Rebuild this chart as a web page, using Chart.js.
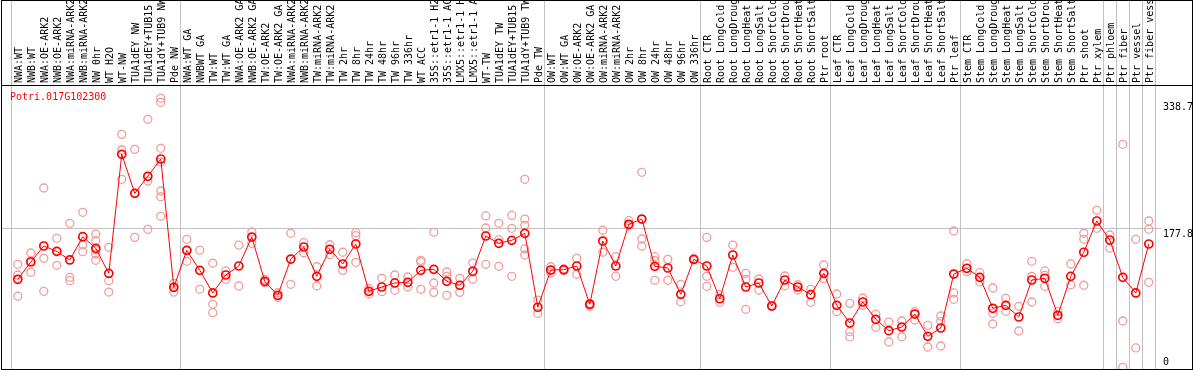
<!DOCTYPE html>
<html>
<head>
<meta charset="utf-8">
<script src="https://cdn.jsdelivr.net/npm/chart.js@4.4.1/dist/chart.umd.min.js"></script>
<style>
  html, body { margin: 0; padding: 0; background: #fff; overflow: hidden; }
  #wrap { position: relative; width: 1194px; height: 370px; }
  #frame { position: absolute; left: 1px; top: 0; width: 1192px; height: 370px; border: 1px solid #000; box-sizing: border-box; pointer-events: none; }
  #headerLine { position: absolute; left: 1px; top: 85px; width: 1192px; height: 1px; background: #000; pointer-events: none; }
</style>
</head>
<body>
<div id="wrap">
  <canvas id="chart" width="1194" height="370"></canvas>
  <div id="frame"></div>
  <div id="headerLine"></div>
</div>
<script>
// expression profile, one gene across all samples

const geneId = 'Potri.017G102300';

const samples = [
    'NWA:WT', 'NWB:WT', 'NWA:OE-ARK2', 'NWB:OE-ARK2', 'NWA:miRNA-ARK2', 'NWB:miRNA-ARK2',
    'NW 0hr', 'WT H2O', 'WT-NW', 'TUA1dEY NW', 'TUA1dEY+TUB15 NW', 'TUA1dY+TUB9 NW', 'Pde NW',
    'NWA:WT GA', 'NWBWT GA', 'TW:WT', 'TW:WT GA', 'NWA:OE-ARK2 GA', 'NWB:OE-ARK2 GA',
    'TW:OE-ARK2', 'TW:OE-ARK2 GA', 'NWA:miRNA-ARK2 GA', 'NWB:miRNA-ARK2 GA', 'TW:miRNA-ARK2',
    'TW:miRNA-ARK2 GA', 'TW 2hr', 'TW 8hr', 'TW 24hr', 'TW 48hr', 'TW 96hr', 'TW 336hr',
    'WT ACC', '35S::etr1-1 H2O', '35S::etr1-1 ACC', 'LMX5::etr1-1 H2O', 'LMX5::etr1-1 ACC',
    'WT-TW', 'TUA1dEY TW', 'TUA1dEY+TUB15 TW', 'TUA1dY+TUB9 TW', 'Pde TW',
    'OW:WT', 'OW:WT GA', 'OW:OE-ARK2', 'OW:OE-ARK2 GA', 'OW:miRNA-ARK2', 'OW:miRNA-ARK2 GA',
    'OW 2hr', 'OW 8hr', 'OW 24hr', 'OW 48hr', 'OW 96hr', 'OW 336hr',
    'Root CTR', 'Root LongCold', 'Root LongDrought', 'Root LongHeat', 'Root LongSalt',
    'Root ShortCold', 'Root ShortDrought', 'Root ShortHeat', 'Root ShortSalt', 'Ptr root',
    'Leaf CTR', 'Leaf LongCold', 'Leaf LongDrought', 'Leaf LongHeat', 'Leaf LongSalt',
    'Leaf ShortCold', 'Leaf ShortDrought', 'Leaf ShortHeat', 'Leaf ShortSalt', 'Ptr leaf',
    'Stem CTR', 'Stem LongCold', 'Stem LongDrought', 'Stem LongHeat', 'Stem LongSalt',
    'Stem ShortCold', 'Stem ShortDrought', 'Stem ShortHeat', 'Stem ShortSalt', 'Ptr shoot',
    'Ptr xylem', 'Ptr phloem', 'Ptr fiber', 'Ptr vessel', 'Ptr fiber vessel'
];

// sample index where each experiment group starts (last one = end)
const groupEdges = [0, 13, 41, 53, 63, 73, 84, 85, 86, 87, 88];

const means = [
    112.9, 134.9, 155.3, 148.5, 137.5, 167.1, 152.3, 120.5, 272.0, 222.3,
    244.0, 266.0, 102.7, 149.8, 124.3, 95.5, 118.4, 129.8, 166.7, 110.3,
    92.5, 138.7, 154.0, 116.7, 151.1, 132.4, 157.8, 97.6, 103.1, 108.2,
    109.1, 124.3, 125.6, 110.3, 105.3, 123.1, 168.0, 158.7, 162.5, 171.4,
    77.3, 124.7, 125.1, 129.8, 81.1, 161.6, 129.8, 182.9, 189.6, 129.4,
    127.3, 93.8, 138.3, 129.8, 88.2, 143.8, 103.1, 108.2, 78.9, 112.0,
    103.1, 93.3, 120.5, 79.8, 57.3, 84.0, 62.0, 47.5, 52.2, 68.7,
    40.3, 50.9, 119.6, 126.9, 115.4, 76.0, 79.8, 64.9, 112.0, 114.2,
    67.1, 116.7, 147.3, 187.1, 162.9, 115.4, 95.5, 157.8
];

const replicates = [
    [132.0, 118.4, 91.3], [146.4, 136.0, 121.8], [229.1, 139.6, 97.6], [165.1, 148.5, 130.7],
    [184.2, 115.4, 111.1], [198.2, 156.5, 148.0], [170.5, 162.0, 150.2, 145.1, 137.1],
    [153.6, 111.1, 96.7], [297.4, 277.5, 240.2], [278.3, 222.3, 166.3], [316.5, 238.0, 176.5],
    [343.3, 338.2, 279.6, 262.2, 225.3, 218.0, 193.1], [107.8, 102.7, 96.7],
    [163.8, 149.8, 135.8], [149.8, 100.2], [133.3, 81.1, 70.4], [123.5, 112.9], [156.5, 104.4],
    [173.1, 158.7], [112.9, 108.6], [95.8, 90.0], [171.4, 106.5], [159.5, 146.7], [128.9, 104.4],
    [156.9, 144.2], [147.3, 124.3], [172.2, 168.4, 134.5], [101.4, 94.2], [114.2, 97.1],
    [118.4, 98.9], [115.8, 103.1], [137.1, 135.0, 100.2], [172.7, 108.2, 96.3],
    [122.2, 116.7, 92.5], [114.2, 96.3], [133.6, 112.9], [193.5, 178.2, 132.0],
    [184.2, 163.3, 129.4], [194.3, 177.8, 116.7], [240.2, 189.6, 181.6, 151.5, 143.8],
    [86.5, 69.6], [128.9, 121.3], [126.0, 124.0], [139.6, 119.3], [82.3, 78.5], [175.3, 147.3],
    [141.7, 116.7], [187.5, 180.7], [249.1, 164.2, 155.3], [141.7, 136.6, 111.6], [138.3, 111.6],
    [106.5, 84.4], [139.0, 137.5], [166.3, 116.7, 104.0], [93.3, 83.6], [156.5, 128.2],
    [120.5, 112.9, 74.7], [113.3, 99.3], [79.5, 78.3], [117.1, 104.7], [106.0, 99.3],
    [100.2, 83.6], [131.1, 113.7], [94.2, 71.7], [82.3, 46.2, 39.5], [89.1, 79.8], [68.7, 51.8],
    [58.5, 33.1], [59.8, 39.8], [71.7, 61.1], [54.3, 26.7], [66.2, 59.4, 28.0],
    [174.4, 95.5, 87.4], [132.7, 122.6], [121.3, 109.5], [101.8, 69.6, 56.0], [88.7, 72.2],
    [78.5, 47.1], [135.8, 116.7, 84.0], [123.5, 118.0, 104.0], [71.7, 62.7], [132.4, 106.0],
    [171.4, 163.8, 105.3], [200.7, 177.8], [169.3, 152.7], [284.7, 59.8, 0.9], [163.8, 25.5],
    [187.1, 176.5, 109.1]
];

const yTicks = [0, 177.8, 338.7];

const monoFont = { family: '"DejaVu Sans Mono", monospace', size: 10 };

const meanPoints = means.map((v, i) => ({ x: i, y: v }));
const repPoints = [];
replicates.forEach((reps, i) => {
    reps.forEach(v => repPoints.push({ x: i, y: v }));
});

// gene id written in the corner of the plot
const geneLabel = {
    id: 'geneLabel',
    afterDraw(chart) {
        const { ctx, chartArea } = chart;
        ctx.save();
        ctx.font = '10px "DejaVu Sans Mono"';
        ctx.fillStyle = '#ff0000';
        ctx.textBaseline = 'middle';
        ctx.fillText(geneId, chartArea.left + 8, chartArea.top + 12);
        ctx.restore();
    }
};

function noEdgePadding(s) {
    s.paddingTop = 0;
    s.paddingBottom = 0;
    s.paddingLeft = 0;
    s.paddingRight = 0;
}

new Chart(document.getElementById('chart'), {
    type: 'scatter',
    data: {
        datasets: [
            {
                label: geneId,
                data: meanPoints,
                showLine: true,
                borderColor: '#ff0000',
                borderWidth: 1,
                tension: 0,
                pointRadius: 4,
                pointBorderWidth: 1.7,
                pointBorderColor: '#ff0000',
                pointBackgroundColor: 'rgba(0,0,0,0)',
                order: 0
            },
            {
                label: 'replicates',
                data: repPoints,
                showLine: false,
                pointRadius: 4,
                pointBorderWidth: 1.3,
                pointBorderColor: '#f09c9c',
                pointBackgroundColor: 'rgba(0,0,0,0)',
                order: 1
            }
        ]
    },
    options: {
        responsive: false,
        animation: false,
        devicePixelRatio: 1,
        layout: { autoPadding: false, padding: { left: 2, right: 0, top: 0, bottom: 1 } },
        plugins: {
            legend: { display: false },
            tooltip: { enabled: false }
        },
        scales: {
            x: {
                type: 'linear',
                position: 'top',
                min: -1.215,
                max: 87.939,
                afterBuildTicks: s => { s.ticks = samples.map((_, i) => ({ value: i })); },
                afterFit: s => { s.height = 85; noEdgePadding(s); },
                grid: {
                    offset: true,
                    color: ctx => groupEdges.includes(ctx.index ?? samples.length) ? '#c0c0c0' : 'rgba(0,0,0,0)',
                    lineWidth: 1,
                    drawTicks: true,
                    tickLength: 85
                },
                border: { display: false },
                ticks: {
                    autoSkip: false,
                    minRotation: 90,
                    maxRotation: 90,
                    padding: -83,
                    labelOffset: 14,
                    color: '#000',
                    font: monoFont,
                    callback: v => samples[v] ?? ''
                }
            },
            y: {
                type: 'linear',
                position: 'right',
                min: -1.27,
                max: 360.2,
                afterBuildTicks: s => { s.ticks = yTicks.map(v => ({ value: v })); },
                afterFit: s => { s.width = 33; noEdgePadding(s); },
                grid: {
                    color: ctx => (ctx.tick && ctx.tick.value === 177.8) ? '#c0c0c0' : 'rgba(0,0,0,0)',
                    drawTicks: false
                },
                border: { display: false },
                ticks: {
                    padding: 2,
                    labelOffset: 6,
                    color: '#000',
                    font: monoFont,
                    callback: v => v === 0 ? ['0', '', ''] : String(v)
                }
            }
        }
    },
    plugins: [geneLabel]
});
</script>
</body>
</html>
